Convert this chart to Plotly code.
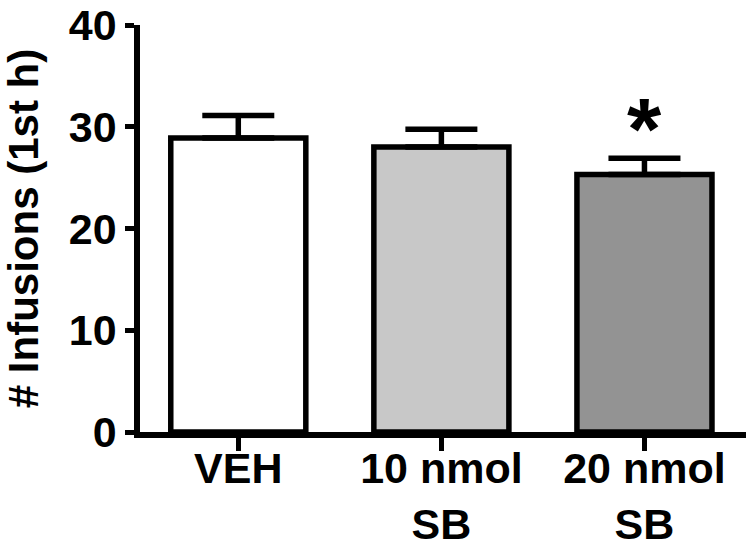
import plotly.graph_objects as go

categories = ["VEH", "10 nmol<br>SB", "20 nmol<br>SB"]
means = [28.9, 28.0, 25.3]
sems = [2.2, 1.75, 1.6]
fill_colors = ["#ffffff", "#c8c8c8", "#939393"]
sig_marks = ["", "", "*"]
y_ticks = [0, 10, 20, 30, 40]

FONT = "Liberation Sans, Arial, sans-serif"

fig = go.Figure()
fig.add_trace(go.Bar(
    x=list(range(len(categories))),
    y=means,
    width=0.665,
    marker=dict(color=fill_colors, line=dict(color="black", width=5.5)),
    error_y=dict(type="data", array=sems, arrayminus=[0] * len(sems),
                 symmetric=False, color="black", thickness=5.5, width=36),
    showlegend=False,
    hoverinfo="skip",
))

for i, m in enumerate(sig_marks):
    if m:
        fig.add_annotation(x=i, y=means[i] + sems[i], text="<b>" + m + "</b>",
                           showarrow=False, yanchor="bottom", yshift=-22,
                           font=dict(family=FONT, size=88, color="black"))

fig.update_layout(
    width=754, height=546,
    margin=dict(l=140, r=8, t=25, b=114),
    paper_bgcolor="white", plot_bgcolor="white",
    font=dict(family=FONT, color="black"),
    bargap=0.3,
)
fig.update_xaxes(
    automargin=False,
    range=[-0.484, 2.5],
    tickmode="array", tickvals=list(range(len(categories))),
    ticktext=["<b>" + c.replace("<br>", "</b><br><b>") + "</b>" for c in categories],
    tickfont=dict(family=FONT, size=43, color="black"),
    showline=True, linecolor="black", linewidth=5.5,
    ticks="outside", ticklen=13, tickwidth=5, tickcolor="black",
    ticklabelstandoff=-19, ticklabeloverflow="allow",
    showgrid=False, zeroline=False,
)
fig.update_yaxes(
    automargin=False,
    range=[0, 40],
    tickmode="array", tickvals=y_ticks, ticktext=["<b>%d</b>" % v for v in y_ticks],
    tickfont=dict(family=FONT, size=43, color="black"),
    showline=True, linecolor="black", linewidth=5.5,
    ticks="outside", ticklen=9, tickwidth=5, tickcolor="black",
    ticklabeloverflow="allow",
    showgrid=False, zeroline=False,
    title=dict(text="<b># Infusions (1st h)</b>", font=dict(family=FONT, size=42, color="black"), standoff=27),
)

fig.write_html("out.html", config={"displayModeBar": False},
               post_script="document.body.style.margin='0';")
